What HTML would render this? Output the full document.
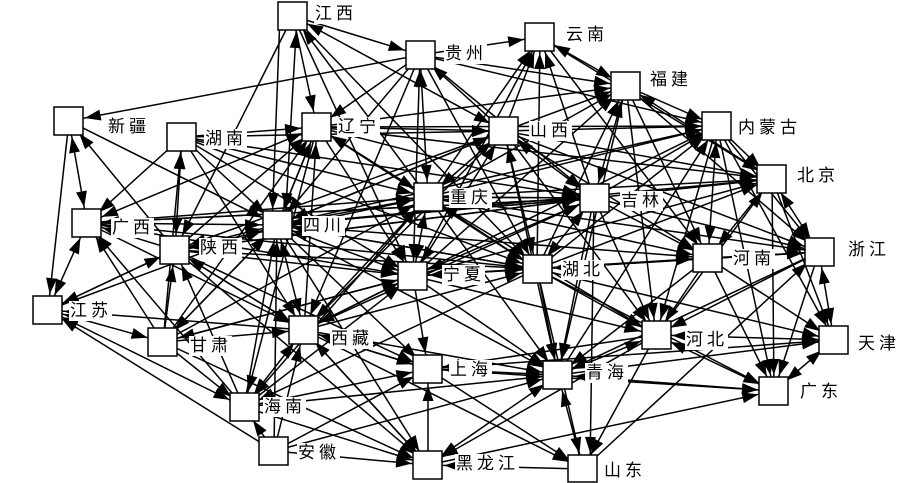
<!DOCTYPE html>
<html><head><meta charset="utf-8"><style>
body{margin:0;width:900px;height:483px;background:#fff;position:relative;overflow:hidden}
svg{position:absolute;left:0;top:0}
.l{position:absolute;font-family:"Liberation Sans","Noto Sans CJK SC",sans-serif;font-size:17px;line-height:20px;letter-spacing:4px;background:#fff;padding:0 0 0 1px;color:#000;white-space:nowrap}
</style></head><body>
<svg width="900" height="483" viewBox="0 0 900 483">
<defs><marker id="a" markerUnits="userSpaceOnUse" markerWidth="50" markerHeight="12" refX="47" refY="6" orient="auto-start-reverse"><path d="M31 6 L15 0.5 L15 11.5 Z" fill="#000"/></marker></defs>
<g stroke="#000" stroke-width="1.5" marker-end="url(#a)">
<line x1="420" y1="55" x2="69" y2="121"/>
<line x1="293" y1="16" x2="420" y2="55"/>
<line x1="293" y1="16" x2="175" y2="250"/>
<line x1="280" y1="16" x2="272" y2="225"/>
<line x1="293" y1="16" x2="317" y2="127"/>
<line x1="428" y1="197" x2="293" y2="16"/>
<line x1="293" y1="16" x2="537" y2="269"/>
<line x1="293" y1="16" x2="413" y2="276"/>
<line x1="420" y1="55" x2="317" y2="127"/>
<line x1="420" y1="55" x2="277" y2="225"/>
<line x1="420" y1="55" x2="594" y2="198"/>
<line x1="420" y1="55" x2="626" y2="86"/>
<line x1="420" y1="55" x2="717" y2="126"/>
<line x1="420" y1="55" x2="537" y2="269"/>
<line x1="420" y1="55" x2="304" y2="330"/>
<line x1="504" y1="131" x2="420" y2="55"/>
<line x1="420" y1="55" x2="540" y2="37"/>
<line x1="504" y1="131" x2="540" y2="37"/>
<line x1="428" y1="197" x2="540" y2="37"/>
<line x1="594" y1="198" x2="540" y2="37"/>
<line x1="537" y1="269" x2="540" y2="37"/>
<line x1="413" y1="276" x2="540" y2="37"/>
<line x1="540" y1="37" x2="772" y2="179"/>
<line x1="540" y1="37" x2="708" y2="258"/>
<line x1="626" y1="86" x2="717" y2="126"/>
<line x1="504" y1="131" x2="626" y2="86"/>
<line x1="537" y1="269" x2="626" y2="86"/>
<line x1="428" y1="197" x2="626" y2="86"/>
<line x1="413" y1="276" x2="626" y2="86"/>
<line x1="317" y1="127" x2="626" y2="86"/>
<line x1="626" y1="86" x2="708" y2="258"/>
<line x1="626" y1="86" x2="819" y2="252"/>
<line x1="626" y1="86" x2="656" y2="335"/>
<line x1="626" y1="86" x2="558" y2="375"/>
<line x1="504" y1="131" x2="717" y2="126"/>
<line x1="317" y1="127" x2="717" y2="126"/>
<line x1="428" y1="197" x2="717" y2="126"/>
<line x1="594" y1="198" x2="717" y2="126"/>
<line x1="537" y1="269" x2="717" y2="126"/>
<line x1="717" y1="126" x2="772" y2="179"/>
<line x1="717" y1="126" x2="819" y2="252"/>
<line x1="717" y1="126" x2="656" y2="335"/>
<line x1="717" y1="126" x2="774" y2="391"/>
<line x1="717" y1="126" x2="834" y2="340"/>
<line x1="413" y1="276" x2="717" y2="126"/>
<line x1="558" y1="375" x2="717" y2="126"/>
<line x1="277" y1="225" x2="717" y2="126"/>
<line x1="504" y1="131" x2="772" y2="179"/>
<line x1="428" y1="197" x2="772" y2="179"/>
<line x1="594" y1="198" x2="772" y2="179"/>
<line x1="537" y1="269" x2="772" y2="179"/>
<line x1="413" y1="276" x2="772" y2="179"/>
<line x1="277" y1="225" x2="772" y2="179"/>
<line x1="317" y1="127" x2="772" y2="179"/>
<line x1="772" y1="179" x2="834" y2="340"/>
<line x1="772" y1="179" x2="708" y2="258"/>
<line x1="772" y1="179" x2="774" y2="391"/>
<line x1="656" y1="335" x2="772" y2="179"/>
<line x1="594" y1="198" x2="819" y2="252"/>
<line x1="537" y1="269" x2="819" y2="252"/>
<line x1="413" y1="276" x2="819" y2="252"/>
<line x1="708" y1="258" x2="819" y2="252"/>
<line x1="504" y1="131" x2="819" y2="252"/>
<line x1="428" y1="197" x2="819" y2="252"/>
<line x1="819" y1="252" x2="774" y2="391"/>
<line x1="819" y1="252" x2="656" y2="335"/>
<line x1="819" y1="252" x2="558" y2="375"/>
<line x1="558" y1="375" x2="834" y2="340"/>
<line x1="537" y1="269" x2="834" y2="340"/>
<line x1="708" y1="258" x2="834" y2="340"/>
<line x1="428" y1="369" x2="834" y2="340"/>
<line x1="708" y1="258" x2="774" y2="391"/>
<line x1="537" y1="269" x2="774" y2="391"/>
<line x1="428" y1="369" x2="774" y2="391"/>
<line x1="428" y1="465" x2="774" y2="391"/>
<line x1="537" y1="269" x2="656" y2="335"/>
<line x1="594" y1="198" x2="656" y2="335"/>
<line x1="428" y1="197" x2="656" y2="335"/>
<line x1="413" y1="276" x2="656" y2="335"/>
<line x1="504" y1="131" x2="656" y2="335"/>
<line x1="708" y1="258" x2="656" y2="335"/>
<line x1="656" y1="335" x2="428" y2="465"/>
<line x1="656" y1="335" x2="583" y2="469"/>
<line x1="656" y1="335" x2="428" y2="369"/>
<line x1="594" y1="198" x2="708" y2="258"/>
<line x1="413" y1="276" x2="708" y2="258"/>
<line x1="428" y1="197" x2="708" y2="258"/>
<line x1="504" y1="131" x2="708" y2="258"/>
<line x1="277" y1="225" x2="708" y2="258"/>
<line x1="708" y1="258" x2="558" y2="375"/>
<line x1="583" y1="469" x2="558" y2="375"/>
<line x1="537" y1="269" x2="558" y2="375"/>
<line x1="413" y1="276" x2="558" y2="375"/>
<line x1="428" y1="197" x2="558" y2="375"/>
<line x1="594" y1="198" x2="558" y2="375"/>
<line x1="504" y1="131" x2="558" y2="375"/>
<line x1="304" y1="330" x2="558" y2="375"/>
<line x1="244" y1="407" x2="558" y2="375"/>
<line x1="277" y1="225" x2="558" y2="375"/>
<line x1="537" y1="269" x2="583" y2="469"/>
<line x1="428" y1="369" x2="583" y2="469"/>
<line x1="304" y1="330" x2="583" y2="469"/>
<line x1="594" y1="198" x2="590" y2="469"/>
<line x1="583" y1="469" x2="819" y2="252"/>
<line x1="583" y1="469" x2="428" y2="465"/>
<line x1="244" y1="407" x2="428" y2="465"/>
<line x1="274" y1="451" x2="428" y2="465"/>
<line x1="304" y1="330" x2="428" y2="465"/>
<line x1="175" y1="250" x2="428" y2="465"/>
<line x1="163" y1="342" x2="428" y2="465"/>
<line x1="277" y1="225" x2="428" y2="465"/>
<line x1="428" y1="465" x2="428" y2="369"/>
<line x1="428" y1="465" x2="304" y2="330"/>
<line x1="413" y1="276" x2="428" y2="369"/>
<line x1="277" y1="225" x2="428" y2="369"/>
<line x1="304" y1="330" x2="428" y2="369"/>
<line x1="175" y1="250" x2="428" y2="369"/>
<line x1="244" y1="407" x2="428" y2="369"/>
<line x1="428" y1="369" x2="304" y2="330"/>
<line x1="304" y1="330" x2="413" y2="276"/>
<line x1="175" y1="250" x2="413" y2="276"/>
<line x1="163" y1="342" x2="413" y2="276"/>
<line x1="244" y1="407" x2="413" y2="276"/>
<line x1="594" y1="198" x2="413" y2="276"/>
<line x1="317" y1="127" x2="413" y2="276"/>
<line x1="182" y1="137" x2="413" y2="276"/>
<line x1="87" y1="223" x2="413" y2="276"/>
<line x1="413" y1="276" x2="304" y2="330"/>
<line x1="413" y1="276" x2="163" y2="342"/>
<line x1="317" y1="127" x2="277" y2="225"/>
<line x1="182" y1="137" x2="277" y2="225"/>
<line x1="87" y1="223" x2="277" y2="225"/>
<line x1="175" y1="250" x2="277" y2="225"/>
<line x1="163" y1="342" x2="277" y2="225"/>
<line x1="244" y1="407" x2="277" y2="225"/>
<line x1="48" y1="310" x2="277" y2="225"/>
<line x1="69" y1="121" x2="277" y2="225"/>
<line x1="504" y1="131" x2="277" y2="225"/>
<line x1="594" y1="198" x2="277" y2="225"/>
<line x1="537" y1="269" x2="277" y2="225"/>
<line x1="274" y1="451" x2="277" y2="225"/>
<line x1="277" y1="225" x2="163" y2="342"/>
<line x1="317" y1="127" x2="428" y2="197"/>
<line x1="182" y1="137" x2="428" y2="197"/>
<line x1="87" y1="223" x2="428" y2="197"/>
<line x1="175" y1="250" x2="428" y2="197"/>
<line x1="537" y1="269" x2="428" y2="197"/>
<line x1="594" y1="198" x2="428" y2="197"/>
<line x1="304" y1="330" x2="428" y2="197"/>
<line x1="163" y1="342" x2="428" y2="197"/>
<line x1="428" y1="197" x2="244" y2="407"/>
<line x1="277" y1="225" x2="594" y2="198"/>
<line x1="428" y1="197" x2="594" y2="198"/>
<line x1="317" y1="127" x2="594" y2="198"/>
<line x1="182" y1="137" x2="594" y2="198"/>
<line x1="175" y1="250" x2="594" y2="198"/>
<line x1="87" y1="223" x2="594" y2="198"/>
<line x1="304" y1="330" x2="594" y2="198"/>
<line x1="428" y1="197" x2="537" y2="269"/>
<line x1="277" y1="225" x2="537" y2="269"/>
<line x1="317" y1="127" x2="537" y2="269"/>
<line x1="175" y1="250" x2="537" y2="269"/>
<line x1="87" y1="223" x2="537" y2="269"/>
<line x1="182" y1="137" x2="537" y2="269"/>
<line x1="304" y1="330" x2="537" y2="269"/>
<line x1="537" y1="269" x2="244" y2="407"/>
<line x1="317" y1="127" x2="504" y2="131"/>
<line x1="182" y1="137" x2="504" y2="131"/>
<line x1="277" y1="225" x2="504" y2="131"/>
<line x1="504" y1="131" x2="175" y2="250"/>
<line x1="504" y1="131" x2="304" y2="330"/>
<line x1="182" y1="137" x2="317" y2="127"/>
<line x1="175" y1="250" x2="317" y2="127"/>
<line x1="277" y1="225" x2="317" y2="127"/>
<line x1="428" y1="197" x2="317" y2="127"/>
<line x1="304" y1="330" x2="317" y2="127"/>
<line x1="163" y1="342" x2="317" y2="127"/>
<line x1="317" y1="127" x2="244" y2="407"/>
<line x1="182" y1="137" x2="87" y2="223"/>
<line x1="175" y1="250" x2="87" y2="223"/>
<line x1="163" y1="342" x2="87" y2="223"/>
<line x1="244" y1="407" x2="87" y2="223"/>
<line x1="594" y1="198" x2="87" y2="223"/>
<line x1="175" y1="250" x2="69" y2="121"/>
<line x1="69" y1="121" x2="48" y2="310"/>
<line x1="163" y1="342" x2="182" y2="137"/>
<line x1="48" y1="310" x2="175" y2="250"/>
<line x1="163" y1="342" x2="175" y2="250"/>
<line x1="304" y1="330" x2="175" y2="250"/>
<line x1="244" y1="407" x2="175" y2="250"/>
<line x1="594" y1="198" x2="175" y2="250"/>
<line x1="274" y1="451" x2="48" y2="310"/>
<line x1="175" y1="250" x2="48" y2="310"/>
<line x1="304" y1="330" x2="48" y2="310"/>
<line x1="163" y1="342" x2="244" y2="407"/>
<line x1="274" y1="451" x2="244" y2="407"/>
<line x1="163" y1="342" x2="304" y2="330"/>
<line x1="175" y1="250" x2="304" y2="330"/>
<line x1="274" y1="451" x2="304" y2="330"/>
<line x1="182" y1="137" x2="304" y2="330"/>
<line x1="87" y1="223" x2="304" y2="330"/>
<line x1="274" y1="451" x2="558" y2="375"/>
<line x1="274" y1="451" x2="428" y2="369"/>
</g>
<g stroke="#000" stroke-width="1.5" marker-start="url(#a)" marker-end="url(#a)">
<line x1="69" y1="121" x2="87" y2="223"/>
<line x1="297" y1="16" x2="285" y2="225"/>
<line x1="293" y1="16" x2="504" y2="131"/>
<line x1="428" y1="197" x2="420" y2="55"/>
<line x1="420" y1="55" x2="413" y2="276"/>
<line x1="626" y1="86" x2="540" y2="37"/>
<line x1="772" y1="179" x2="626" y2="86"/>
<line x1="594" y1="198" x2="626" y2="86"/>
<line x1="717" y1="126" x2="708" y2="258"/>
<line x1="772" y1="179" x2="819" y2="252"/>
<line x1="834" y1="340" x2="819" y2="252"/>
<line x1="656" y1="335" x2="834" y2="340"/>
<line x1="774" y1="391" x2="834" y2="340"/>
<line x1="656" y1="335" x2="774" y2="391"/>
<line x1="558" y1="375" x2="774" y2="391"/>
<line x1="558" y1="375" x2="656" y2="335"/>
<line x1="558" y1="375" x2="428" y2="369"/>
<line x1="558" y1="375" x2="428" y2="465"/>
<line x1="277" y1="225" x2="413" y2="276"/>
<line x1="277" y1="225" x2="428" y2="197"/>
<line x1="413" y1="276" x2="428" y2="197"/>
<line x1="594" y1="198" x2="537" y2="269"/>
<line x1="413" y1="276" x2="537" y2="269"/>
<line x1="708" y1="258" x2="537" y2="269"/>
<line x1="537" y1="269" x2="504" y2="131"/>
<line x1="413" y1="276" x2="504" y2="131"/>
<line x1="594" y1="198" x2="504" y2="131"/>
<line x1="428" y1="197" x2="504" y2="131"/>
<line x1="317" y1="127" x2="87" y2="223"/>
<line x1="87" y1="223" x2="48" y2="310"/>
<line x1="182" y1="137" x2="175" y2="250"/>
<line x1="163" y1="342" x2="48" y2="310"/>
<line x1="48" y1="310" x2="244" y2="407"/>
<line x1="244" y1="407" x2="304" y2="330"/>
<line x1="277" y1="225" x2="304" y2="330"/>
</g>
<g fill="#fff" stroke="#000" stroke-width="1.5">
<rect x="278" y="2" width="29" height="28"/>
<rect x="406" y="41" width="29" height="28"/>
<rect x="525" y="23" width="29" height="28"/>
<rect x="611" y="72" width="29" height="28"/>
<rect x="54" y="107" width="29" height="28"/>
<rect x="167" y="123" width="29" height="28"/>
<rect x="302" y="113" width="29" height="28"/>
<rect x="489" y="117" width="29" height="28"/>
<rect x="702" y="112" width="29" height="28"/>
<rect x="757" y="165" width="29" height="28"/>
<rect x="414" y="183" width="29" height="28"/>
<rect x="580" y="184" width="29" height="28"/>
<rect x="72" y="209" width="29" height="28"/>
<rect x="263" y="211" width="29" height="28"/>
<rect x="160" y="236" width="29" height="28"/>
<rect x="398" y="262" width="29" height="28"/>
<rect x="523" y="255" width="29" height="28"/>
<rect x="693" y="244" width="29" height="28"/>
<rect x="805" y="238" width="29" height="28"/>
<rect x="33" y="296" width="29" height="28"/>
<rect x="148" y="328" width="29" height="28"/>
<rect x="289" y="316" width="29" height="28"/>
<rect x="642" y="321" width="29" height="28"/>
<rect x="819" y="326" width="29" height="28"/>
<rect x="413" y="355" width="29" height="28"/>
<rect x="543" y="361" width="29" height="28"/>
<rect x="759" y="377" width="29" height="28"/>
<rect x="230" y="393" width="29" height="28"/>
<rect x="259" y="437" width="29" height="28"/>
<rect x="413" y="451" width="29" height="28"/>
<rect x="568" y="455" width="29" height="27"/>
</g>
</svg>
<div class="l" style="left:314px;top:4px">江西</div>
<div class="l" style="left:444px;top:44px">贵州</div>
<div class="l" style="left:565px;top:25px">云南</div>
<div class="l" style="left:649px;top:70px">福建</div>
<div class="l" style="left:107px;top:117px">新疆</div>
<div class="l" style="left:204px;top:129px">湖南</div>
<div class="l" style="left:337px;top:117px">辽宁</div>
<div class="l" style="left:529px;top:121px">山西</div>
<div class="l" style="left:737px;top:118px">内蒙古</div>
<div class="l" style="left:796px;top:166px">北京</div>
<div class="l" style="left:449px;top:188px">重庆</div>
<div class="l" style="left:620px;top:191px">吉林</div>
<div class="l" style="left:111px;top:218px">广西</div>
<div class="l" style="left:302px;top:216px">四川</div>
<div class="l" style="left:199px;top:238px">陕西</div>
<div class="l" style="left:442px;top:265px">宁夏</div>
<div class="l" style="left:561px;top:260px">湖北</div>
<div class="l" style="left:732px;top:249px">河南</div>
<div class="l" style="left:847px;top:240px">浙江</div>
<div class="l" style="left:69px;top:301px">江苏</div>
<div class="l" style="left:189px;top:336px">甘肃</div>
<div class="l" style="left:330px;top:329px">西藏</div>
<div class="l" style="left:685px;top:330px">河北</div>
<div class="l" style="left:857px;top:334px">天津</div>
<div class="l" style="left:449px;top:360px">上海</div>
<div class="l" style="left:585px;top:363px">青海</div>
<div class="l" style="left:799px;top:382px">广东</div>
<div class="l" style="left:263px;top:397px">海南</div>
<div class="l" style="left:297px;top:443px">安徽</div>
<div class="l" style="left:455px;top:454px">黑龙江</div>
<div class="l" style="left:603px;top:461px">山东</div>
</body></html>
